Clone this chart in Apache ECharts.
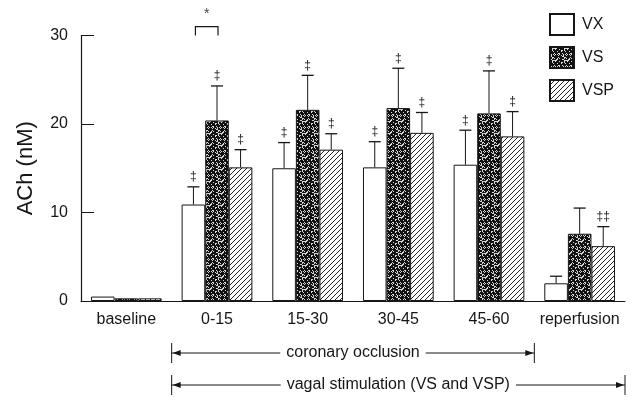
<!DOCTYPE html>
<html>
<head>
<meta charset="utf-8">
<script src="https://cdn.jsdelivr.net/npm/echarts@6/dist/echarts.min.js"></script>
<style>
  html, body { margin: 0; padding: 0; background: #fff; }
  #main { width: 634px; height: 400px; }
</style>
</head>
<body>
<div id="main"></div>
<script>
// data
var categories = ['baseline', '0-15', '15-30', '30-45', '45-60', 'reperfusion'];
var vxMean = [0.5, 10.9, 15.0, 15.1, 15.4, 2.0];
var vxSem = [0, 2.0, 2.9, 2.9, 3.9, 0.8];
var vsMean = [0.3, 20.4, 21.6, 21.8, 21.2, 7.6];
var vsSem = [0, 3.9, 3.9, 4.5, 4.8, 2.9];
var vspMean = [0.3, 15.1, 17.1, 19.0, 18.6, 6.2];
var vspSem = [0, 2.0, 1.8, 2.3, 2.8, 2.2];
var vxMarks = ['', '‡', '‡', '‡', '‡', ''];
var vsMarks = ['', '‡', '‡', '‡', '‡', ''];
var vspMarks = ['', '‡', '‡', '‡', '‡', '‡‡'];
var yTicks = [0, 10, 20, 30];

var FONT = 'Liberation Sans';
var INK = '#161616';
var CAT_GAP = 0.22;

// fill textures
function stipple() {
    var c = document.createElement('canvas');
    c.width = 12; c.height = 12;
    var ctx = c.getContext('2d');
    ctx.fillStyle = '#111';
    ctx.fillRect(0, 0, 12, 12);
    ctx.fillStyle = '#d8d8d8';
    for (var y = 0; y < 12; y++) {
        for (var x = 0; x < 12; x++) {
            var h = (x * 37 + y * 91 + x * y * 13) % 17;
            if (h < 5) ctx.fillRect(x, y, 1, 1);
        }
    }
    return c;
}
function hatch() {
    var c = document.createElement('canvas');
    c.width = 5; c.height = 5;
    var ctx = c.getContext('2d');
    ctx.fillStyle = '#fff';
    ctx.fillRect(0, 0, 5, 5);
    ctx.strokeStyle = '#222';
    ctx.lineWidth = 1;
    ctx.beginPath();
    ctx.moveTo(-1, 6); ctx.lineTo(6, -1);
    ctx.moveTo(-1, 1); ctx.lineTo(1, -1);
    ctx.moveTo(4, 6); ctx.lineTo(6, 4);
    ctx.stroke();
    return c;
}

var fills = [
    '#ffffff',
    { image: stipple(), repeat: 'repeat' },
    { image: hatch(), repeat: 'repeat' }
];

// error bar items: [category, top, seriesIndex, mean]
var errItems = [];
var errMarks = [];
[[vxMean, vxSem, vxMarks], [vsMean, vsSem, vsMarks], [vspMean, vspSem, vspMarks]].forEach(function (s, si) {
    s[0].forEach(function (m, i) {
        errItems.push([i, m + s[1][i], si, m]);
        errMarks.push(s[2][i]);
    });
});

function barX(api, cat, s) {
    var band = api.size([1, 0])[0];
    var bw = band * (1 - CAT_GAP) / 3;
    return api.coord([cat, 0])[0] + (s - 1) * bw;
}

function renderErr(params, api) {
    var cat = api.value(0), top = api.value(1), s = api.value(2), mean = api.value(3);
    var cx = barX(api, cat, s);
    var yBar = api.coord([cat, mean])[1];
    var yTop = api.coord([cat, top])[1];
    var kids = [];
    if (top > mean) {
        kids.push({ type: 'line', shape: { x1: cx, y1: yBar, x2: cx, y2: yTop }, style: { stroke: INK, lineWidth: 1 } });
        kids.push({ type: 'line', shape: { x1: cx - 6, y1: yTop, x2: cx + 6, y2: yTop }, style: { stroke: INK, lineWidth: 1.3 } });
    }
    var mk = errMarks[params.dataIndex];
    if (mk) {
        kids.push({ type: 'text', x: cx, y: yTop - 4, style: { text: mk, fill: INK, font: '12px ' + FONT, align: 'center', verticalAlign: 'bottom' } });
    }
    return { type: 'group', children: kids };
}

// significance bracket between VX and VS at 0-15
var bracket = [[1, 31, 30]];
function renderBracket(params, api) {
    var cat = api.value(0);
    var x1 = barX(api, cat, 0) + 2, x2 = barX(api, cat, 1) + 1;
    var yT = api.coord([cat, api.value(1)])[1];
    var yB = api.coord([cat, api.value(2)])[1];
    return {
        type: 'group',
        children: [
            { type: 'polyline', shape: { points: [[x1, yB], [x1, yT], [x2, yT], [x2, yB]] }, style: { stroke: INK, lineWidth: 1.2, fill: null } },
            { type: 'text', x: (x1 + x2) / 2, y: yT - 6, style: { text: '*', fill: '#444', font: '14px ' + FONT, align: 'center', verticalAlign: 'bottom' } }
        ]
    };
}

function barSeries(name, data, idx) {
    return {
        name: name,
        type: 'bar',
        data: data,
        barGap: '0%',
        barCategoryGap: (CAT_GAP * 100) + '%',
        itemStyle: { color: fills[idx], borderColor: INK, borderWidth: 1 },
        emphasis: { disabled: true }
    };
}

var chart = echarts.init(document.getElementById('main'));
var option = {
    animation: false,
    textStyle: { fontFamily: FONT },
    grid: { left: 81, right: 9, top: 35.5, bottom: 99 },
    legend: {
        orient: 'vertical',
        left: 549,
        top: 13,
        icon: 'rect',
        itemWidth: 24,
        itemHeight: 21,
        itemGap: 10,
        padding: 0,
        textStyle: { fontSize: 16, color: INK, fontFamily: FONT, padding: [0, 0, 0, 3] },
        data: ['VX', 'VS', 'VSP']
    },
    xAxis: {
        type: 'category',
        data: categories,
        axisLine: { lineStyle: { color: INK, width: 1 } },
        axisTick: { inside: true, length: 9, lineStyle: { color: INK } },
        axisLabel: { fontSize: 16, color: INK, margin: 11, interval: 0 }
    },
    yAxis: {
        type: 'value',
        min: yTicks[0],
        max: yTicks[yTicks.length - 1],
        interval: yTicks[1] - yTicks[0],
        name: 'ACh (nM)',
        nameLocation: 'middle',
        nameGap: 44,
        nameTextStyle: { fontSize: 22, color: INK, fontFamily: FONT },
        axisLine: { show: true, lineStyle: { color: INK, width: 1.2 } },
        axisTick: { show: true, inside: true, length: 13, lineStyle: { color: INK } },
        axisLabel: { fontSize: 16, color: INK, margin: 13 },
        splitLine: { show: false }
    },
    series: [
        barSeries('VX', vxMean, 0),
        barSeries('VS', vsMean, 1),
        barSeries('VSP', vspMean, 2),
        { type: 'custom', renderItem: renderErr, data: errItems, z: 5, silent: true },
        { type: 'custom', renderItem: renderBracket, data: bracket, z: 5, silent: true, clip: false }
    ]
};
chart.setOption(option);

// period annotations under the axis
function periodRow(fromCat, toCat, dy, label) {
    var c0 = chart.convertToPixel({ xAxisIndex: 0 }, fromCat);
    var c1 = chart.convertToPixel({ xAxisIndex: 0 }, toCat);
    var band = chart.convertToPixel({ xAxisIndex: 0 }, 1) - chart.convertToPixel({ xAxisIndex: 0 }, 0);
    var xL = c0 - band / 2, xR = c1 + band / 2;
    var y = chart.convertToPixel({ yAxisIndex: 0 }, 0) + dy;
    var ctx = document.createElement('canvas').getContext('2d');
    ctx.font = '16px ' + FONT;
    var half = ctx.measureText(label).width / 2 + 6;
    var mid = (xL + xR) / 2;
    var st = { stroke: INK, lineWidth: 1 };
    return [
        { type: 'line', shape: { x1: xL, y1: y - 10, x2: xL, y2: y + 10 }, style: st },
        { type: 'line', shape: { x1: xR, y1: y - 10, x2: xR, y2: y + 10 }, style: st },
        { type: 'line', shape: { x1: xL, y1: y, x2: mid - half, y2: y }, style: st },
        { type: 'line', shape: { x1: mid + half, y1: y, x2: xR, y2: y }, style: st },
        { type: 'polygon', shape: { points: [[xL + 1, y], [xL + 9, y - 3], [xL + 9, y + 3]] }, style: { fill: INK } },
        { type: 'polygon', shape: { points: [[xR - 1, y], [xR - 9, y - 3], [xR - 9, y + 3]] }, style: { fill: INK } },
        { type: 'text', x: mid, y: y, style: { text: label, fill: INK, font: '16px ' + FONT, align: 'center', verticalAlign: 'middle' } }
    ];
}

chart.setOption({
    graphic: periodRow(1, 4, 52, 'coronary occlusion').concat(periodRow(1, 5, 84, 'vagal stimulation (VS and VSP)'))
});
</script>
</body>
</html>
